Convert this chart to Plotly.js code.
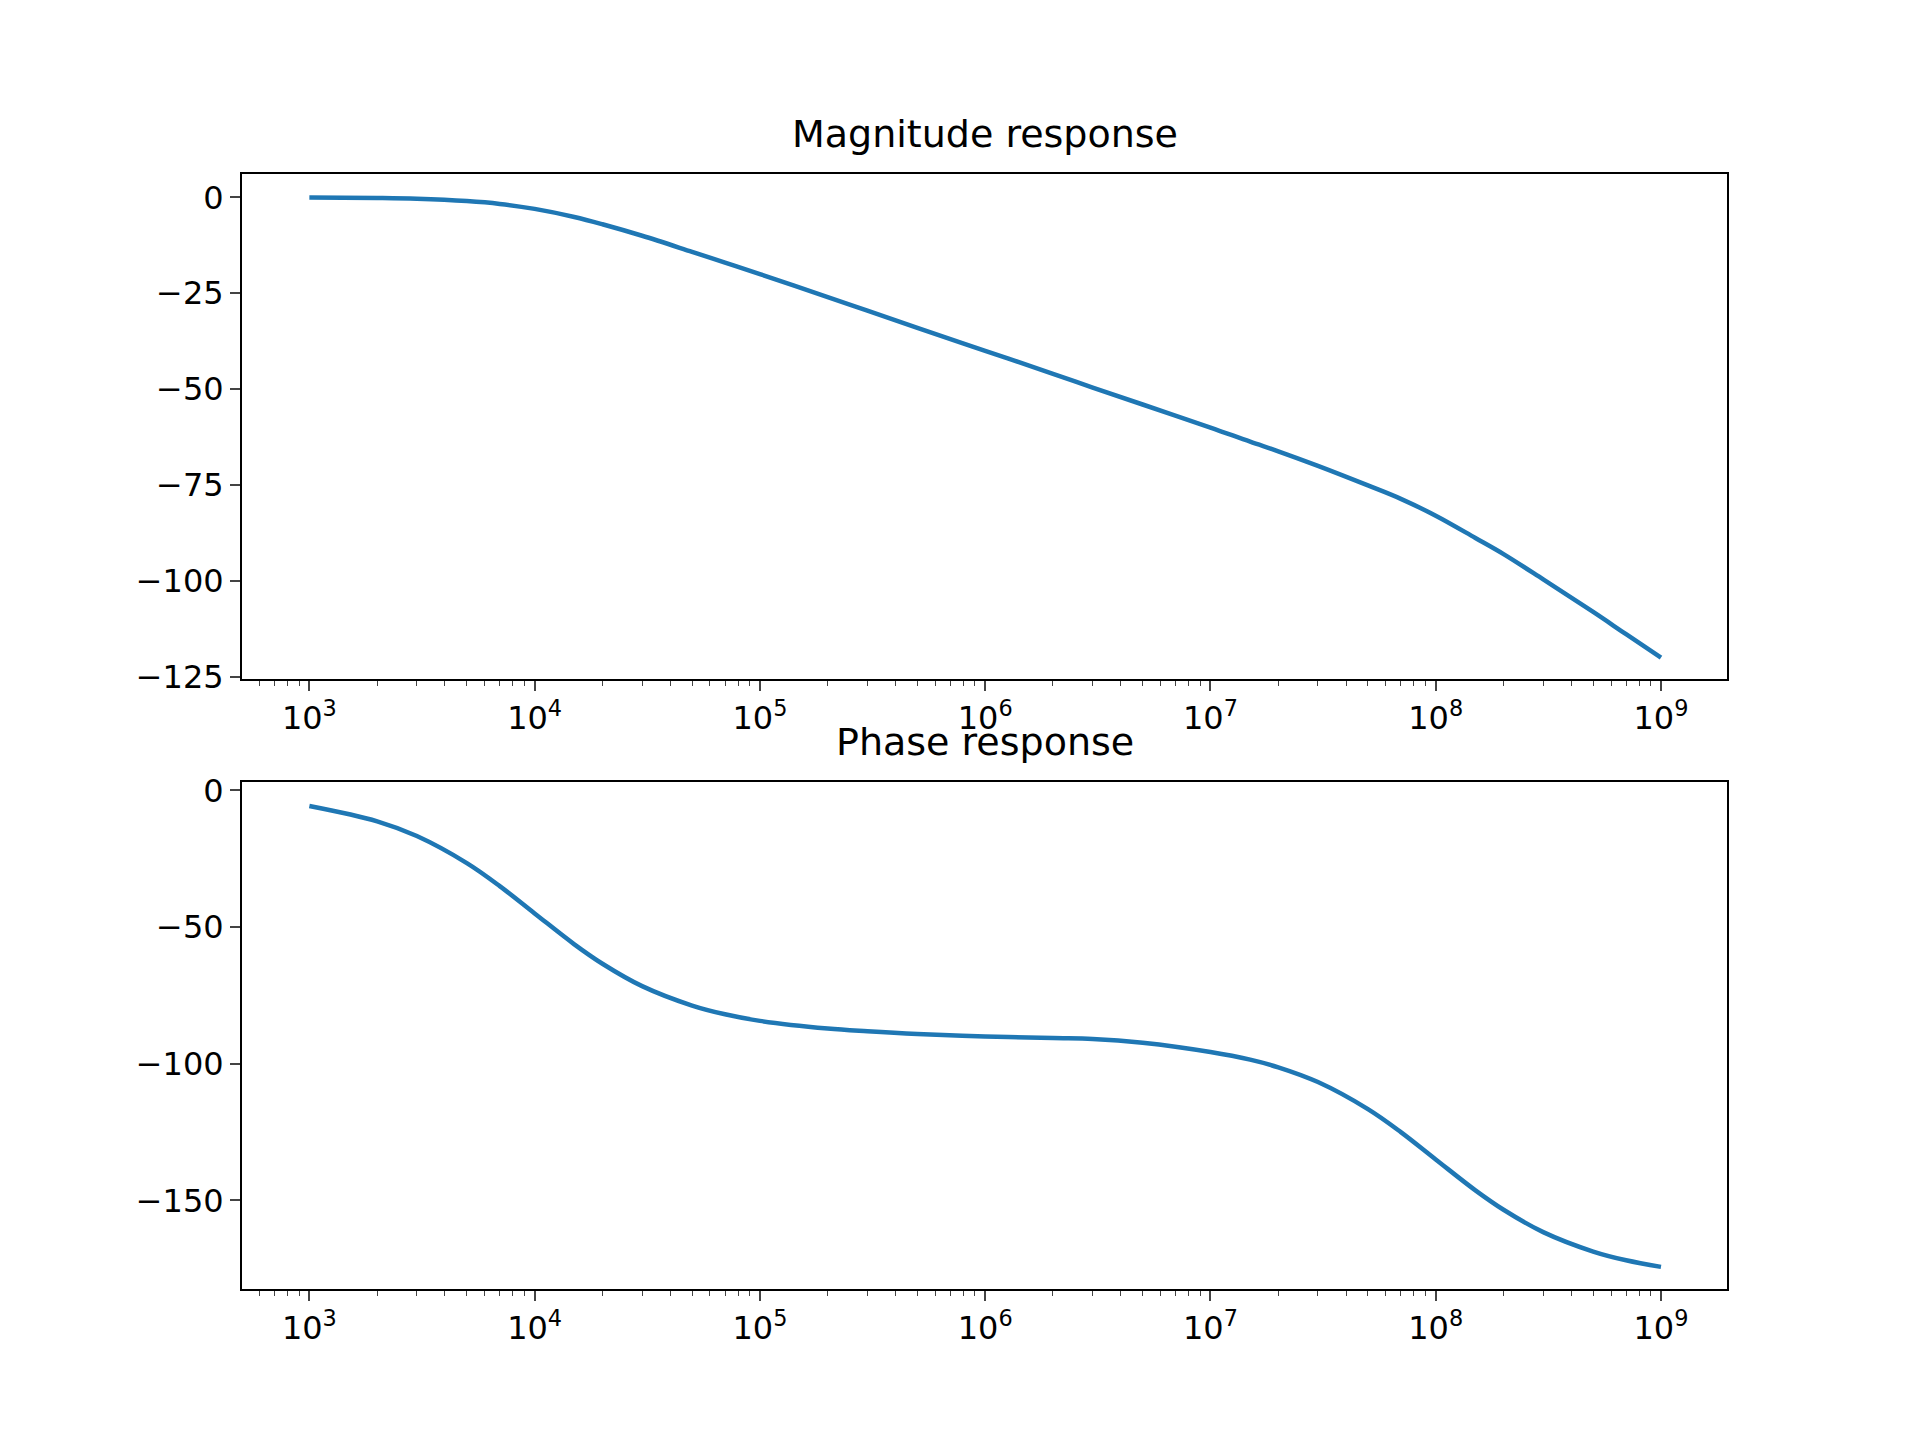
<!DOCTYPE html>
<html>
<head>
<script src="https://cdn.plot.ly/plotly-3.0.1.min.js"></script>
<style>body{margin:0}</style>
</head>
<body>
<div id="plot" style="width:1920px;height:1440px"></div>
<script>
// values
var freq = [1e3, 2e3, 3e3, 5e3, 7e3, 1e4, 1.5e4, 2e4, 3e4, 5e4, 7e4, 1e5, 2e5, 3e5, 5e5, 1e6, 2e6, 3e6, 5e6, 1e7, 1.5e7, 2e7, 3e7, 5e7, 7e7, 1e8, 1.5e8, 2e8, 3e8, 5e8, 7e8, 1e9];
var magDb = [-0.04, -0.17, -0.37, -0.97, -1.7, -3.0, -5.1, -7.0, -10.0, -14.2, -17.0, -20.0, -26.0, -29.5, -34.0, -40.0, -46.0, -49.6, -54.0, -60.0, -63.7, -66.2, -70.0, -75.1, -78.6, -83.0, -88.8, -93.0, -99.6, -108.1, -113.9, -120.0];
var phaseDeg = [-5.7, -11.3, -16.7, -26.6, -35.0, -45.0, -56.3, -63.4, -71.6, -78.7, -81.9, -84.3, -87.1, -88.1, -89.1, -90.0, -90.6, -90.9, -92.3, -95.7, -98.5, -101.3, -106.7, -116.6, -125.0, -135.0, -146.3, -153.4, -161.6, -168.7, -171.9, -174.3];
var tickVals = [1e3, 1e4, 1e5, 1e6, 1e7, 1e8, 1e9];
var tickText = ['10<sup>3</sup>', '10<sup>4</sup>', '10<sup>5</sup>', '10<sup>6</sup>', '10<sup>7</sup>', '10<sup>8</sup>', '10<sup>9</sup>'];

var lineStyle = {color: '#1f77b4', width: 4.5, shape: 'spline'};
var data = [
    {x: freq, y: magDb, type: 'scatter', mode: 'lines', line: lineStyle, xaxis: 'x', yaxis: 'y'},
    {x: freq, y: phaseDeg, type: 'scatter', mode: 'lines', line: lineStyle, xaxis: 'x2', yaxis: 'y2'}
];

function xAxis(anchor) {
    return {
        type: 'log', range: [2.701, 9.293], anchor: anchor,
        domain: [0, 1], tickvals: tickVals, ticktext: tickText,
        ticks: 'outside', ticklen: 10, tickwidth: 1.8, showgrid: false, zeroline: false,
        showline: true, mirror: true, linecolor: 'black', linewidth: 2,
        minor: {ticks: 'outside', ticklen: 5, tickwidth: 1.3, dtick: 'D1', showgrid: false},
        tickfont: {size: 32}
    };
}
function yAxis(anchor, domain, range, dtick) {
    return {
        anchor: anchor, domain: domain, range: range, dtick: dtick,
        ticks: 'outside', ticklen: 10, tickwidth: 1.8, showgrid: false, zeroline: false,
        showline: true, mirror: true, linecolor: 'black', linewidth: 2,
        tickfont: {size: 32}
    };
}

var layout = {
    width: 1920, height: 1440,
    margin: {l: 242, r: 193, t: 174, b: 151},
    showlegend: false,
    paper_bgcolor: 'white', plot_bgcolor: 'white',
    font: {family: 'DejaVu Sans', color: 'black'},
    xaxis: xAxis('y'),
    yaxis: yAxis('x', [0.547, 1], [-125.6, 6.1], 25),
    xaxis2: xAxis('y2'),
    yaxis2: yAxis('x2', [0, 0.455], [-182.4, 3.2], 50),
    annotations: [
        {text: 'Magnitude response', xref: 'paper', yref: 'paper', x: 0.5, y: 1, yshift: 16,
         xanchor: 'center', yanchor: 'bottom', showarrow: false, font: {size: 38}},
        {text: 'Phase response', xref: 'paper', yref: 'paper', x: 0.5, y: 0.455, yshift: 16,
         xanchor: 'center', yanchor: 'bottom', showarrow: false, font: {size: 38}}
    ]
};

Plotly.newPlot('plot', data, layout, {displayModeBar: false});
</script>
</body>
</html>
